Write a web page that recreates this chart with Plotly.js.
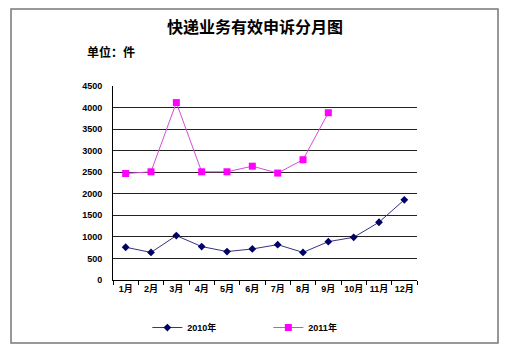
<!DOCTYPE html>
<html>
<head>
<meta charset="utf-8">
<script src="https://cdn.plot.ly/plotly-3.0.1.min.js"></script>
<style>html,body{margin:0;padding:0;background:#fff;}#chart{width:510px;height:355px;}</style>
</head>
<body>
<div id="chart"></div>
<script>
const months = ['1月','2月','3月','4月','5月','6月','7月','8月','9月','10月','11月','12月'];
const months2011 = ['1月','2月','3月','4月','5月','6月','7月','8月','9月'];
const values2010 = [760, 640, 1030, 775, 660, 720, 820, 640, 890, 990, 1340, 1860];
const values2011 = [2470, 2510, 4115, 2510, 2510, 2640, 2480, 2790, 3880];
const seriesNames = ['2010年', '2011年'];
const titleText = '快递业务有效申诉分月图';
const unitText = '单位：件';

const FONT = 'Liberation Sans, Arial, Noto Sans CJK SC, sans-serif';

const traces = [
  {
    x: months, y: values2010, name: seriesNames[0], type: 'scatter', mode: 'lines+markers',
    line: {color: '#33337f', width: 1},
    marker: {symbol: 'diamond', size: 6, color: '#000066'}
  },
  {
    x: months2011, y: values2011, name: seriesNames[1], type: 'scatter', mode: 'lines+markers',
    line: {color: '#d84ad8', width: 1},
    marker: {symbol: 'square', size: 7, color: '#ff00ff'}
  }
];

const layout = {
  width: 510, height: 355,
  margin: {l: 113, r: 93, t: 86, b: 75},
  paper_bgcolor: '#fff', plot_bgcolor: '#fff',
  font: {family: FONT, color: '#000'},
  title: {
    text: titleText, x: 0.5, xref: 'container', xanchor: 'center',
    y: 1 - 27/355, yref: 'container', yanchor: 'middle',
    font: {size: 16, weight: 'bold', family: 'Noto Sans CJK SC, sans-serif', color: '#000'}
  },
  xaxis: {
    type: 'category', categoryarray: months, categoryorder: 'array',
    range: [-0.5, 11.5],
    showline: true, linecolor: '#000', linewidth: 1,
    ticks: 'outside', tickson: 'boundaries', ticklen: 4, tickcolor: '#000',
    showgrid: false, zeroline: false, tickangle: 0,
    tickfont: {size: 9, weight: 'bold', family: FONT}
  },
  yaxis: {
    range: [0, 4500], dtick: 500, tick0: 0,
    showline: true, linecolor: '#000', linewidth: 1,
    showgrid: true, gridcolor: '#222', gridwidth: 1,
    zeroline: false, ticks: '', ticklabelstandoff: 8,
    tickfont: {size: 9, weight: 'bold', family: FONT}
  },
  showlegend: true,
  legend: {
    orientation: 'h', x: 0.113, xanchor: 'left', y: -0.245, yanchor: 'middle',
    font: {size: 9, weight: 'bold', family: FONT},
    entrywidth: 76, itemwidth: 30
  },
  annotations: [
    {text: unitText, xref: 'paper', yref: 'paper', x: (85-113)/304, y: (280-52)/194,
     xanchor: 'left', yanchor: 'middle', showarrow: false,
     font: {size: 12, weight: 'bold', family: 'Noto Sans CJK SC, sans-serif'}}
  ],
  shapes: [
    {type: 'rect', xref: 'paper', yref: 'paper',
     x0: (11-113)/304, x1: (498-113)/304, y0: (280-343)/194, y1: (280-9)/194,
     line: {color: '#777', width: 1.5}, fillcolor: 'rgba(0,0,0,0)', layer: 'below'}
  ]
};

Plotly.newPlot('chart', traces, layout, {displayModeBar: false, staticPlot: true});
</script>
</body>
</html>
